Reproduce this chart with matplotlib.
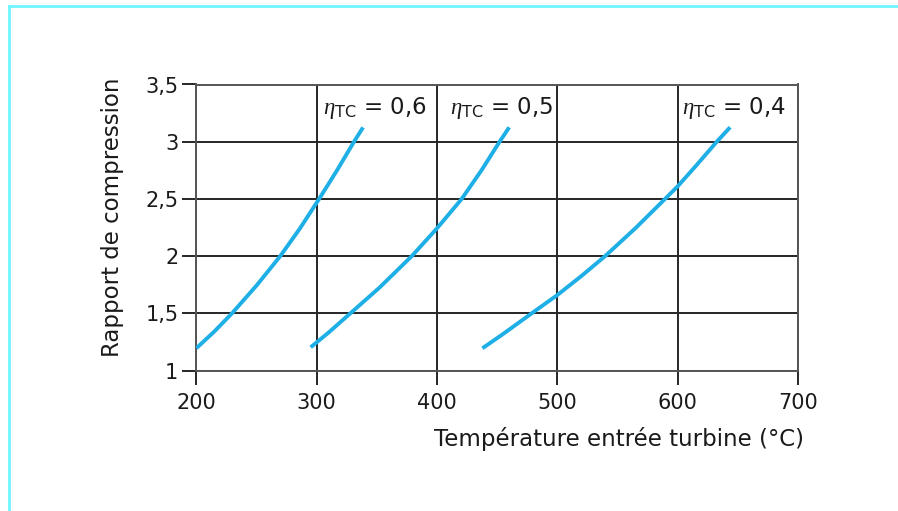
import matplotlib
matplotlib.use('Agg')
import matplotlib.pyplot as plt
from matplotlib.lines import Line2D

plt.rcParams['font.family'] = ['DejaVu Sans']
plt.rcParams['mathtext.fontset'] = 'custom'
plt.rcParams['mathtext.rm'] = 'DejaVu Sans'
plt.rcParams['mathtext.it'] = 'Liberation Serif:italic'

# turbine inlet temperature (degC) vs compression ratio, one curve per efficiency
x_06 = [200, 214.8, 229.6, 250, 269.7, 286, 302, 317, 331, 338.5]
y_06 = [1.195, 1.34, 1.50, 1.743, 2.00, 2.241, 2.50, 2.752, 3.00, 3.125]

x_05 = [295, 310, 328, 352, 379, 400, 420.5, 437, 452, 460]
y_05 = [1.203, 1.333, 1.50, 1.723, 2.00, 2.243, 2.50, 2.751, 3.00, 3.126]

x_04 = [437.7, 455, 478.7, 500, 520, 539.7, 565, 589.5, 600, 615, 632.5, 643.6]
y_04 = [1.194, 1.32, 1.50, 1.66, 1.826, 2.00, 2.245, 2.50, 2.61, 2.787, 3.00, 3.126]

labels = ['0,6', '0,5', '0,4']
label_x = [305, 410.6, 603.8]
label_y = 3.245

xticks = [200, 300, 400, 500, 600, 700]
yticks = [1, 1.5, 2, 2.5, 3, 3.5]
ytick_labels = ['1', '1,5', '2', '2,5', '3', '3,5']

fig = plt.figure(figsize=(8.98, 5.11), dpi=100)
ax = fig.add_axes([196.4/898, 1-370.5/511, (798-196.4)/898, (370.5-84.5)/511])

blue = '#1eafe6'
for xs, ys in [(x_06, y_06), (x_05, y_05), (x_04, y_04)]:
    ax.plot(xs, ys, color=blue, lw=2.8, solid_capstyle='butt', zorder=3)

for lx, lab in zip(label_x, labels):
    ax.text(lx, label_y, r'$\mathit{\eta}_{\mathrm{TC}}$' + ' = ' + lab,
            fontsize=16.5, ha='left', va='baseline', color='#1a1a1a')

ax.set_xlim(200, 700)
ax.set_ylim(1, 3.5)
ax.set_xticks(xticks)
ax.set_yticks(yticks)
ax.set_yticklabels(ytick_labels)
ax.grid(True, color='#262626', lw=1.4)
ax.set_axisbelow(True)
for s in ax.spines.values():
    s.set_color('#555555')
    s.set_linewidth(1.4)
ax.tick_params(direction='out', length=10, width=1.4, color='#262626',
               labelsize=15, labelcolor='#1a1a1a')
ax.tick_params(axis='x', pad=6)
ax.tick_params(axis='y', pad=3)

fig.text(113/898, 1-217.5/511, 'Rapport de compression', rotation=90,
         ha='center', va='center', fontsize=16.5, color='#1a1a1a')
fig.text(804/898, 1-446/511, 'Température entrée turbine (°C)',
         ha='right', va='baseline', fontsize=16.5, color='#1a1a1a')

# light cyan frame on the left and top
fig.add_artist(Line2D([9/898, 9/898], [0, 1-6/511], transform=fig.transFigure,
                      color='#6ff6ff', lw=2))
fig.add_artist(Line2D([9/898, 1], [1-6/511, 1-6/511], transform=fig.transFigure,
                      color='#6ff6ff', lw=2))

fig.savefig('out.png', dpi=100)
